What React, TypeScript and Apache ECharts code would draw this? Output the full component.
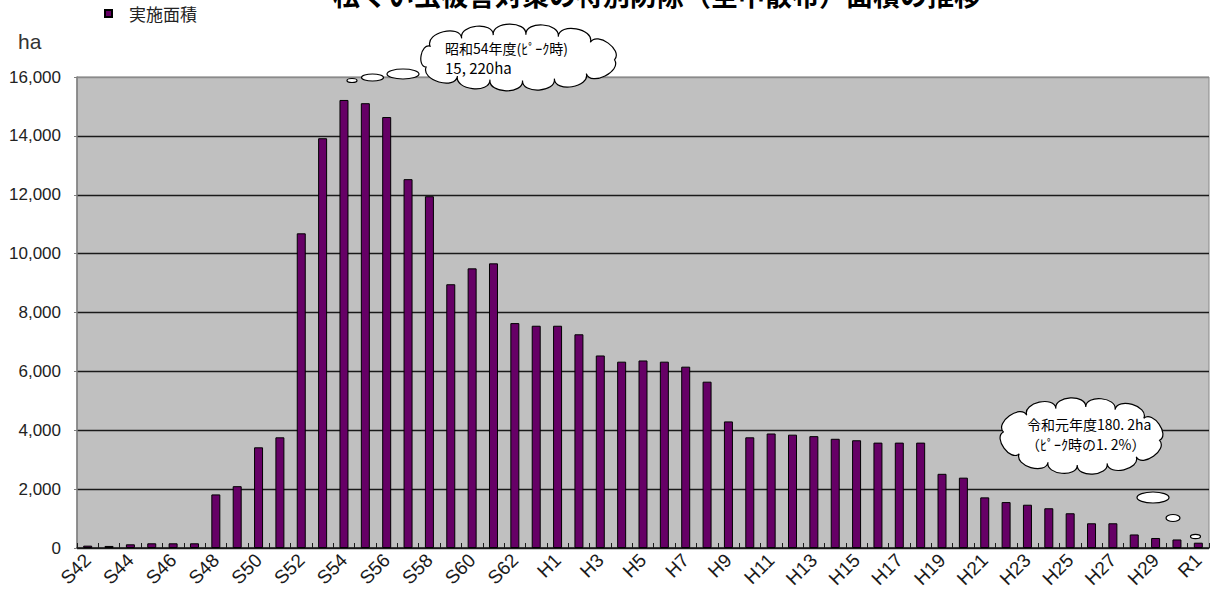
import React, { useEffect, useRef } from "react";
import * as echarts from "echarts";

const categories = [
  "S42", "S43", "S44", "S45", "S46", "S47", "S48", "S49", "S50", "S51",
  "S52", "S53", "S54", "S55", "S56", "S57", "S58", "S59", "S60", "S61",
  "S62", "S63", "H1", "H2", "H3", "H4", "H5", "H6", "H7", "H8",
  "H9", "H10", "H11", "H12", "H13", "H14", "H15", "H16", "H17", "H18",
  "H19", "H20", "H21", "H22", "H23", "H24", "H25", "H26", "H27", "H28",
  "H29", "H30", "R1",
];

const areaValues = [
  80, 70, 125, 160, 160, 160, 1820, 2100, 3420, 3760,
  10690, 13920, 15220, 15110, 14640, 12530, 11950, 8960, 9500, 9670,
  7640, 7550, 7550, 7260, 6540, 6330, 6370, 6330, 6160, 5650,
  4300, 3760, 3890, 3850, 3800, 3710, 3660, 3580, 3580, 3580,
  2520, 2390, 1720, 1560, 1470, 1350, 1180, 840, 840, 460,
  340, 290, 180.2,
];

const seriesName = "実施面積";
const unitLabel = "ha";
const titleText = "松くい虫被害対策の特別防除（空中散布）面積の推移";
const peakNote = ["昭和54年度(ﾋﾟｰｸ時)", "15, 220ha"];
const latestNote = ["令和元年度180. 2ha", "（ﾋﾟｰｸ時の1. 2%）"];

// Cloud outline: puffy bumps evenly spaced (by arc length) around an ellipse.
function cloudPath(cx: number, cy: number, rx: number, ry: number, n: number, phase: number, puff: number) {
  const samples: number[][] = [];
  const m = 720;
  let total = 0;
  const cum: number[] = [0];
  for (let i = 0; i <= m; i++) {
    const a = phase + (i / m) * Math.PI * 2;
    samples.push([cx + rx * Math.cos(a), cy + ry * Math.sin(a)]);
    if (i > 0) {
      total += Math.hypot(samples[i][0] - samples[i - 1][0], samples[i][1] - samples[i - 1][1]);
      cum.push(total);
    }
  }
  const pts: number[][] = [];
  let j = 0;
  for (let k = 0; k < n; k++) {
    const target = (k / n) * total;
    while (j < m && cum[j + 1] < target) j++;
    pts.push(samples[j]);
  }
  let d = `M${pts[0][0].toFixed(2)} ${pts[0][1].toFixed(2)}`;
  for (let i = 0; i < n; i++) {
    const p = pts[i];
    const q = pts[(i + 1) % n];
    const dx = q[0] - p[0];
    const dy = q[1] - p[1];
    const c = Math.hypot(dx, dy);
    let nx = -dy / c;
    let ny = dx / c;
    const mx = (p[0] + q[0]) / 2 - cx;
    const my = (p[1] + q[1]) / 2 - cy;
    if (nx * mx + ny * my < 0) {
      nx = -nx;
      ny = -ny;
    }
    const k = (puff * c) / 0.75;
    const c1x = p[0] + nx * k - dx * 0.05;
    const c1y = p[1] + ny * k - dy * 0.05;
    const c2x = q[0] + nx * k + dx * 0.05;
    const c2y = q[1] + ny * k + dy * 0.05;
    d += ` C${c1x.toFixed(2)} ${c1y.toFixed(2)} ${c2x.toFixed(2)} ${c2y.toFixed(2)} ${q[0].toFixed(2)} ${q[1].toFixed(2)}`;
  }
  return d + " Z";
}

let registered = false;
function registerClouds() {
  if (registered) return;
  registered = true;
  echarts.graphic.registerShape(
    "cloudPeak",
    echarts.graphic.extendPath(cloudPath(516, 57.5, 99, 23, 13, 0.1, 0.33), {})
  );
  echarts.graphic.registerShape(
    "cloudLatest",
    echarts.graphic.extendPath(cloudPath(1081.5, 436, 79, 29, 12, 0.15, 0.33), {})
  );
}

export default function App() {
  const ref = useRef<HTMLDivElement>(null);

  useEffect(() => {
    if (!ref.current) return;
    registerClouds();
    const chart = echarts.init(ref.current, undefined, { renderer: "svg" });
    const latin = "'Liberation Sans', Arial, 'Noto Sans CJK JP', sans-serif";
    const jp = "'Noto Sans CJK JP', 'Liberation Sans', sans-serif";
    const bubbleStyle = { fill: "#ffffff", stroke: "#000000", lineWidth: 1.2 };

    chart.setOption({
      animation: false,
      backgroundColor: "#ffffff",
      grid: {
        left: 77,
        top: 77,
        right: 1,
        bottom: 51,
        show: true,
        backgroundColor: "#c0c0c0",
        borderColor: "#8a8a8a",
        borderWidth: 1,
      },
      legend: {
        data: [{ name: seriesName, icon: "rect" }],
        left: 104,
        top: 5,
        padding: 0,
        itemWidth: 7,
        itemHeight: 7,
        textStyle: {
          fontFamily: jp,
          fontSize: 17,
          color: "#222",
          padding: [0, 0, 0, 12],
        },
      },
      xAxis: {
        type: "category",
        data: categories,
        boundaryGap: true,
        axisLine: { show: true, lineStyle: { color: "#1a1a1a", width: 1.5 } },
        axisTick: {
          show: true,
          inside: true,
          length: 5,
          interval: 0,
          lineStyle: { color: "#1a1a1a", width: 1 },
        },
        axisLabel: {
          interval: 1,
          rotate: 45,
          margin: 9,
          fontFamily: latin,
          fontSize: 19,
          color: "#1a1a1a",
        },
        splitLine: { show: false },
      },
      yAxis: {
        type: "value",
        min: 0,
        max: 16000,
        interval: 2000,
        axisLine: { show: true, lineStyle: { color: "#808080", width: 1.5 } },
        axisTick: { show: true, length: 3, lineStyle: { color: "#808080" } },
        axisLabel: {
          margin: 16,
          fontFamily: latin,
          fontSize: 17,
          color: "#222",
          formatter: (v: number) => v.toLocaleString("en-US"),
        },
        splitLine: {
          show: true,
          lineStyle: {
            color: ["#1a1a1a", "#1a1a1a", "#1a1a1a", "#1a1a1a", "#1a1a1a", "#1a1a1a", "#1a1a1a", "#1a1a1a", "#8a8a8a"],
            width: 1.4,
          },
        },
      },
      series: [
        {
          name: seriesName,
          type: "bar",
          data: areaValues,
          barWidth: 9,
          itemStyle: { color: "#660066", borderColor: "#000000", borderWidth: 1 },
        },
      ],
      graphic: [
        {
          type: "text",
          x: 657,
          y: 8,
          style: {
            text: titleText,
            fontFamily: jp,
            fontSize: 27,
            fontWeight: "bold",
            fill: "#000",
            align: "center",
            verticalAlign: "bottom",
          },
        },
        {
          type: "text",
          x: 18,
          y: 41,
          style: {
            text: unitLabel,
            fontFamily: latin,
            fontSize: 21,
            fill: "#333",
            align: "left",
            verticalAlign: "middle",
          },
        },
        { type: "ellipse", shape: { cx: 352, cy: 80.5, rx: 5, ry: 2 }, style: bubbleStyle, z: 100 },
        { type: "ellipse", shape: { cx: 372.5, cy: 77.5, rx: 11, ry: 3.5 }, style: bubbleStyle, z: 100 },
        { type: "ellipse", shape: { cx: 403, cy: 74, rx: 16, ry: 5 }, style: bubbleStyle, z: 100 },
        { type: "cloudPeak", style: bubbleStyle, z: 100 },
        {
          type: "text",
          x: 445,
          y: 48,
          z: 101,
          style: {
            text: peakNote[0],
            fontFamily: jp,
            fontSize: 14,
            fill: "#000",
            align: "left",
            verticalAlign: "middle",
          },
        },
        {
          type: "text",
          x: 445,
          y: 67,
          z: 101,
          style: {
            text: peakNote[1],
            fontFamily: jp,
            fontSize: 15,
            fill: "#000",
            align: "left",
            verticalAlign: "middle",
          },
        },
        { type: "cloudLatest", style: bubbleStyle, z: 100 },
        {
          type: "text",
          x: 1027,
          y: 424,
          z: 101,
          style: {
            text: latestNote[0],
            fontFamily: jp,
            fontSize: 14,
            fill: "#000",
            align: "left",
            verticalAlign: "middle",
          },
        },
        {
          type: "text",
          x: 1026,
          y: 444,
          z: 101,
          style: {
            text: latestNote[1],
            fontFamily: jp,
            fontSize: 14,
            fill: "#000",
            align: "left",
            verticalAlign: "middle",
          },
        },
        { type: "ellipse", shape: { cx: 1153, cy: 497.5, rx: 16, ry: 5.5 }, style: bubbleStyle, z: 100 },
        { type: "ellipse", shape: { cx: 1173, cy: 518, rx: 7, ry: 3.5 }, style: bubbleStyle, z: 100 },
        { type: "ellipse", shape: { cx: 1195.5, cy: 536.5, rx: 5, ry: 2.2 }, style: bubbleStyle, z: 100 },
      ],
    });

    return () => {
      chart.dispose();
    };
  }, []);

  return (
    <div
      ref={ref}
      style={{ position: "absolute", left: 0, top: 0, width: 1210, height: 599 }}
    />
  );
}
